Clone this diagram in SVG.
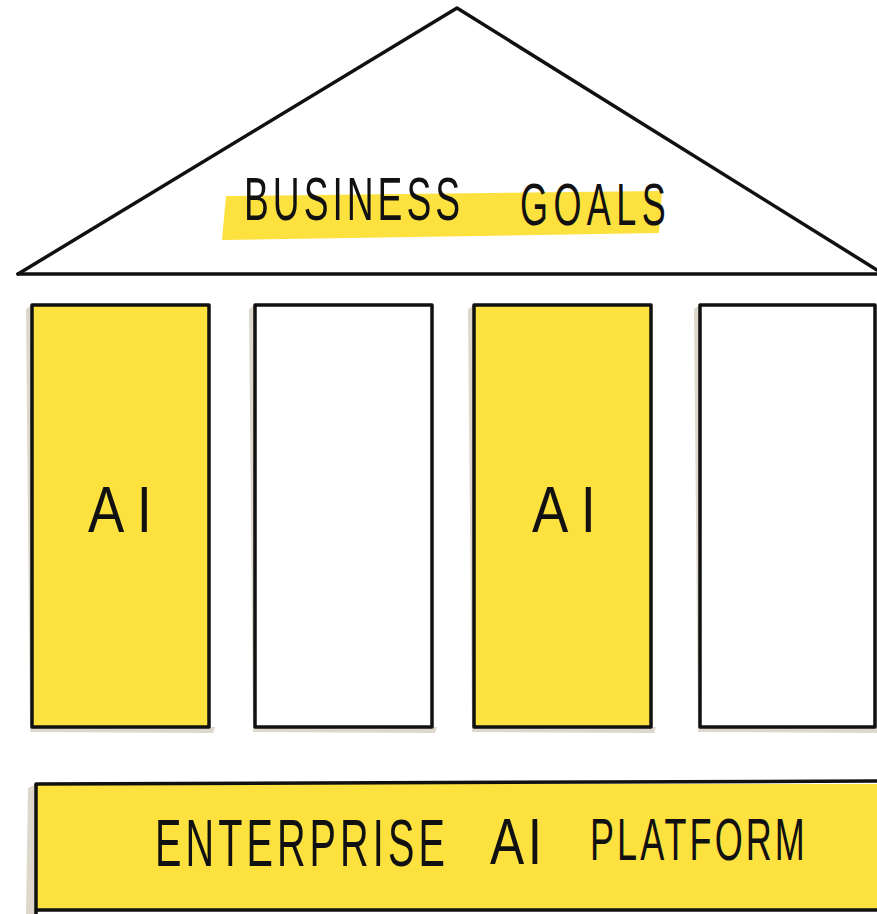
<svg xmlns="http://www.w3.org/2000/svg" width="877" height="914" viewBox="0 0 877 914">
<style>
.ln{fill:none;stroke:#111;stroke-width:3.5;stroke-linejoin:round;stroke-linecap:round}
.yel{fill:#FDE13F}
.wht{fill:#fff}
.sh{fill:#DDD8CB}
.t{font-family:"Liberation Sans",Arial,sans-serif;fill:#111;font-weight:normal}
</style>
<rect width="877" height="914" fill="#fff"/>
<g id="roof">
<path d="M226 196 L662 191 L659 233 L222 240 Z" class="yel"/>
<path d="M18 274 L457 8 L877 270" class="ln"/>
<path d="M18 274 L877 274" class="ln"/>
<text class="t" transform="translate(244,220) scale(0.6,1)" font-size="62" textLength="360" lengthAdjust="spacing">BUSINESS</text>
<text class="t" transform="translate(520,225) scale(0.6,1)" font-size="60" textLength="243" lengthAdjust="spacing">GOALS</text>
</g>
<g id="col1">
<path d="M26 309 L32 305 L32 727 L215 727 L213 733 L30 732 Z" class="sh"/>
<rect x="32" y="305" width="177" height="422" class="yel"/>
<rect x="32" y="305" width="177" height="422" class="ln"/>
<text class="t" transform="translate(88,532) scale(0.85,1)" font-size="64" textLength="75" lengthAdjust="spacing">AI</text>
</g>
<g id="col2">
<path d="M249 309 L255 305 L255 727 L437 727 L435 733 L253 732 Z" class="sh"/>
<rect x="255" y="305" width="177" height="422" class="wht"/>
<rect x="255" y="305" width="177" height="422" class="ln"/>
</g>
<g id="col3">
<path d="M468 309 L474 305 L474 727 L656 727 L654 733 L472 732 Z" class="sh"/>
<rect x="474" y="305" width="177" height="422" class="yel"/>
<rect x="474" y="305" width="177" height="422" class="ln"/>
<text class="t" transform="translate(532,532) scale(0.85,1)" font-size="64" textLength="75" lengthAdjust="spacing">AI</text>
</g>
<g id="col4">
<path d="M694 309 L700 305 L700 727 L877 727 L877 733 L698 732 Z" class="sh"/>
<rect x="700" y="305" width="175" height="422" class="wht"/>
<rect x="700" y="305" width="175" height="422" class="ln"/>
</g>
<g id="platform">
<path d="M28 788 L36 784 L36 914 L26 914 Z" class="sh"/>
<rect x="36" y="784" width="845" height="126" class="yel"/>
<path d="M36 784 L877 781 M36 784 L36 914 M36 910 L877 910" class="ln"/>
<text class="t" transform="translate(155,866) scale(0.6,1)" font-size="66" textLength="483" lengthAdjust="spacing">ENTERPRISE</text>
<text class="t" transform="translate(490,864) scale(0.8,1)" font-size="64" textLength="65" lengthAdjust="spacing">AI</text>
<text class="t" transform="translate(590,860) scale(0.6,1)" font-size="60" textLength="358" lengthAdjust="spacing">PLATFORM</text>
</g>
</svg>
